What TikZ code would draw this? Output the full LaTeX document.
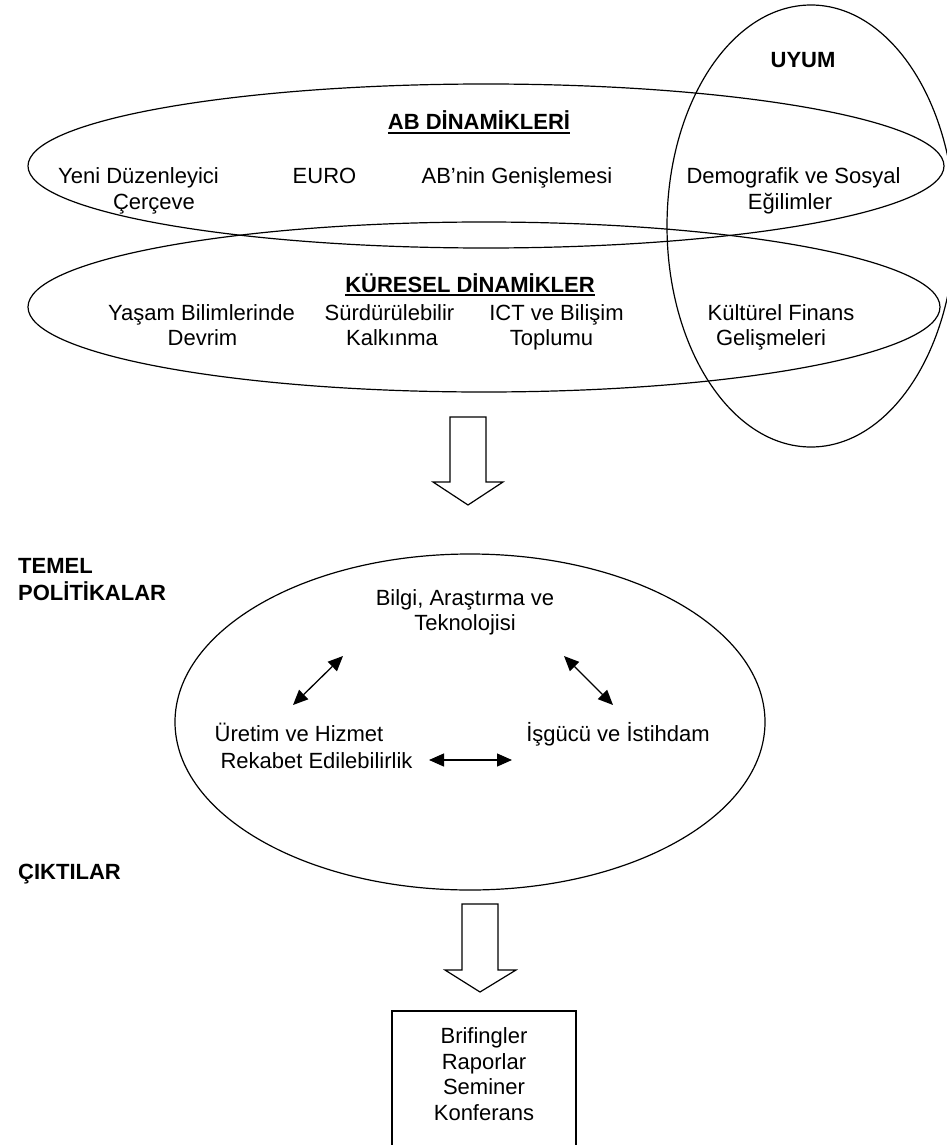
\documentclass[tikz,border=0pt]{standalone}
\usepackage{fontspec}
\setmainfont{Liberation Sans}
\usetikzlibrary{shapes.geometric,arrows.meta}
\begin{document}
\begin{tikzpicture}[x=1pt,y=-1pt,
  txt/.style={inner sep=0pt,anchor=base,font=\fontsize{22}{26}\selectfont},
  ttl/.style={txt,font=\fontsize{22}{26}\selectfont\bfseries},
  lttl/.style={ttl,anchor=base west},
  oval/.style={draw,ellipse,line width=1.2pt,inner sep=0pt},
  blockarrow/.style={draw,line width=1.2pt,line join=miter,fill=white},
  dbl/.style={line width=1.3pt,{Triangle[length=15pt,width=13pt]}-{Triangle[length=15pt,width=13pt]}},
  uline/.style={line width=2pt}]
\useasboundingbox (0,0) rectangle (946,1145);
% ellipses
\node[oval,minimum width=916pt,minimum height=164pt] (abov) at (486,166) {};
\node[oval,minimum width=912pt,minimum height=170pt] (kurov) at (484,307) {};
\node[oval,minimum width=288pt,minimum height=442pt] (uyov) at (811,226) {};
\node[oval,minimum width=590pt,minimum height=336pt] (polov) at (470,722) {};
% top titles
\node[ttl] (uyum) at (803,68) {UYUM};
\node[ttl] (abt) at (479,130) {AB DİNAMİKLERİ};
\draw[uline] ([yshift=-3pt]abt.base west) -- ([yshift=-3pt]abt.base east);
\node[ttl] (kurt) at (470,292) {KÜRESEL DİNAMİKLER};
\draw[uline] ([yshift=-3pt]kurt.base west) -- ([yshift=-3pt]kurt.base east);
% AB row
\node[txt] (yeni1) at (138.5,183) {Yeni Düzenleyici};
\node[txt] (yeni2) at (154,209) {Çerçeve};
\node[txt] (euro) at (324.5,183) {EURO};
\node[txt] (gen) at (517,183) {AB’nin Genişlemesi};
\node[txt] (dem1) at (793.5,183) {Demografik ve Sosyal};
\node[txt] (dem2) at (790,209) {Eğilimler};
% Küresel row
\node[txt] (yas1) at (201.5,320) {Yaşam Bilimlerinde};
\node[txt] (yas2) at (202.5,345) {Devrim};
\node[txt] (sur1) at (389.5,320) {Sürdürülebilir};
\node[txt] (sur2) at (392,345) {Kalkınma};
\node[txt] (ict1) at (556.5,320) {ICT ve Bilişim};
\node[txt] (ict2) at (551.5,345) {Toplumu};
\node[txt] (kul1) at (781,320) {Kültürel Finans};
\node[txt] (kul2) at (771,345) {Gelişmeleri};
% block arrow 1
\draw[blockarrow] (450,417) -- (486,417) -- (486,482) -- (503,482) -- (468,505) -- (433,482) -- (450,482) -- cycle;
% left labels
\node[lttl] (temel1) at (18,573) {TEMEL};
\node[lttl] (temel2) at (18,600) {POLİTİKALAR};
\node[lttl] (cikti) at (18,879) {ÇIKTILAR};
% policy texts
\node[txt] (bil1) at (465,605) {Bilgi, Araştırma ve};
\node[txt] (bil2) at (465,630) {Teknolojisi};
\node[txt] (ure1) at (299,741) {Üretim ve Hizmet};
\node[txt] (ure2) at (316.5,768) {Rekabet Edilebilirlik};
\node[txt] (isg) at (618,741) {İşgücü ve İstihdam};
% double arrows
\coordinate (la) at (293,705); \coordinate (lb) at (343,656);
\coordinate (ra) at (564,656); \coordinate (rb) at (613,705);
\coordinate (ha) at (429,760); \coordinate (hb) at (512,760);
\draw[dbl] (la) -- (lb);
\draw[dbl] (ra) -- (rb);
\draw[dbl] (ha) -- (hb);
% block arrow 2
\draw[blockarrow] (462,904) -- (498,904) -- (498,970) -- (516,970) -- (480,992) -- (445,970) -- (462,970) -- cycle;
% outputs box (bottom edge lies just outside the picture)
\draw[line width=1.2pt] (392,1011) rectangle (576,1147);
\node[txt] (o1) at (484,1043) {Brifingler};
\node[txt] (o2) at (484,1069) {Raporlar};
\node[txt] (o3) at (484,1094) {Seminer};
\node[txt] (o4) at (484,1120) {Konferans};
\end{tikzpicture}
\end{document}
